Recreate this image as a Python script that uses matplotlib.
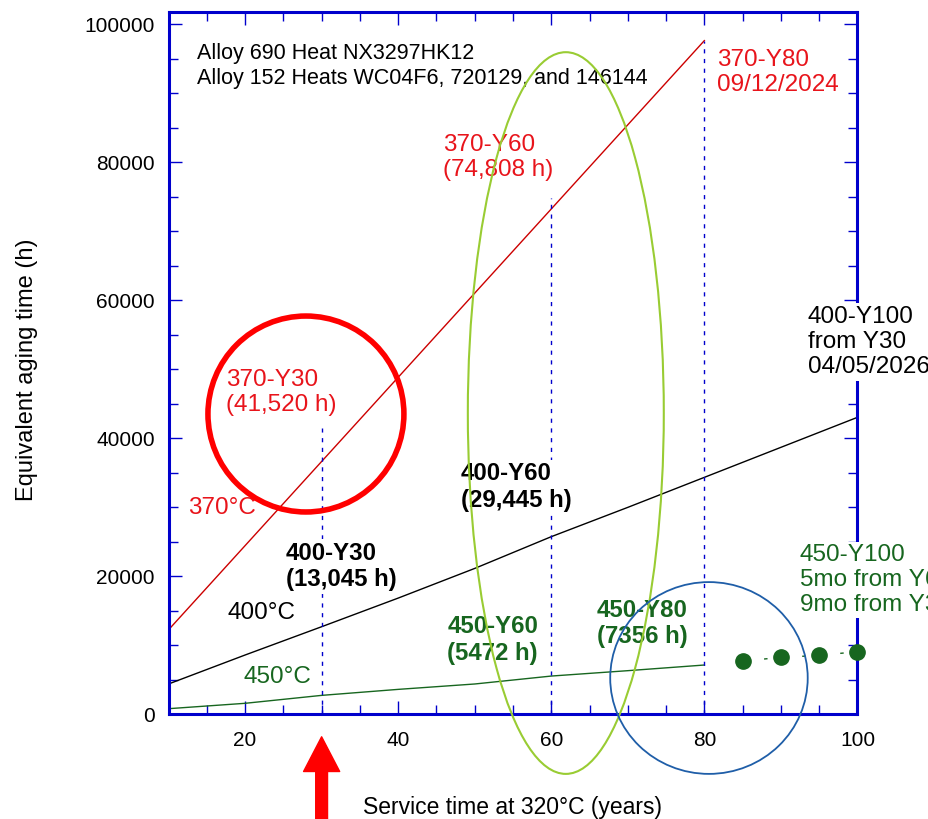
import matplotlib
matplotlib.use('Agg')
import matplotlib.pyplot as plt
from matplotlib.patches import Ellipse
from matplotlib.ticker import MultipleLocator

plt.rcParams['font.family'] = ['Liberation Sans', 'DejaVu Sans']

# service years and equivalent aging time (h)
years = [10, 20, 30, 40, 50, 60, 70, 80, 90, 100]
t370 = [12200, 24400, 36600, 48800, 61000, 73200, 85400, 97600]
t400 = [4350, 8550, 12650, 16800, 21100, 25700, 29950, 34300, 38650, 43000]
t450 = [770, 1550, 2700, 3570, 4350, 5500, 6280, 7100]
y450_ext = [85, 90, 95, 100]
t450_ext = [7680, 8200, 8500, 9030]

# dashed markers at Y30 / Y60 / Y80
mark_years = [30, 60, 80]
mark_tops = [41520, 74808, 97600]

red = '#e8141b'
dred = '#cc0000'
dgreen = '#17661f'
blue = '#0000cc'

fig = plt.figure(figsize=(9.29, 8.19), dpi=100)
ax = fig.add_axes([0.1814, 0.1282, 0.7416, 0.8571])

ax.plot(years[:len(t370)], t370, color=dred, lw=1)
ax.plot(years, t400, color='black', lw=1)
ax.plot(years[:len(t450)], t450, color=dgreen, lw=1)
ax.plot(y450_ext, t450_ext, color=dgreen, lw=1, ls=(12, (2.5, 25)), zorder=2)
ax.plot(y450_ext, t450_ext, 'o', color=dgreen, ms=11, zorder=4, clip_on=False)

for xm, top in zip(mark_years, mark_tops):
    ax.plot([xm, xm], [0, top], color=blue, lw=1, ls=(0, (3, 4)))

ax.add_patch(Ellipse((27.95, 43480), 25.6, 28400, fill=False, ec='#ff0000', lw=4, clip_on=False, zorder=4))
ax.add_patch(Ellipse((61.9, 43620), 25.6, 104600, fill=False, ec='#99cc33', lw=1.5, clip_on=False, zorder=4))
ax.add_patch(Ellipse((80.6, 5220), 25.8, 27800, fill=False, ec='#1f5ea8', lw=1.3, clip_on=False, zorder=4))

ax.annotate('', xy=(30, -3300), xytext=(30, -17500), xycoords='data',
            arrowprops=dict(facecolor='#ff0000', edgecolor='#ff0000', width=8.5, headwidth=26, headlength=25, shrink=0),
            annotation_clip=False)

ax.set_xlim(10, 100)
ax.set_ylim(0, 101740)
ax.xaxis.set_major_locator(MultipleLocator(20))
ax.xaxis.set_minor_locator(MultipleLocator(5))
ax.yaxis.set_major_locator(MultipleLocator(20000))
ax.yaxis.set_minor_locator(MultipleLocator(5000))
ax.tick_params(which='both', direction='in', top=True, right=True, color=blue, labelsize=15, labelcolor='black')
ax.tick_params(which='major', length=9.5, width=1)
ax.tick_params(which='minor', length=6.5, width=1)
ax.tick_params(axis='x', pad=12)
ax.tick_params(axis='y', pad=10)
for s in ax.spines.values():
    s.set_color(blue)
    s.set_linewidth(2.2)

ax.set_xlabel('Service time at 320°C (years)', fontsize=16.5)
ax.set_ylabel('Equivalent aging time (h)', fontsize=17)
ax.xaxis.set_label_coords(0.5, -0.117)
ax.yaxis.set_label_coords(-0.19, 0.49)

box = dict(facecolor='white', edgecolor='none', boxstyle='square,pad=0.1')
ax.text(13.7, 93900, 'Alloy 690 Heat NX3297HK12\nAlloy 152 Heats WC04F6, 720129, and 146144',
        fontsize=15.5, va='center', linespacing=1.28)
ax.text(45.85, 80650, '370-Y60\n(74,808 h)', color=red, fontsize=17.5, va='center', linespacing=1.19)
ax.text(81.64, 92970, '370-Y80\n09/12/2024', color=red, fontsize=17.5, va='center', linespacing=1.19)
ax.text(17.51, 46590, '370-Y30\n(41,520 h)', color=red, fontsize=17.5, va='center', linespacing=1.19)
ax.text(12.54, 29850, '370°C', color=red, fontsize=17.5, va='center')
ax.text(25.35, 21380, '400-Y30\n(13,045 h)', fontsize=17.3, fontweight='bold', va='center', linespacing=1.19, bbox=box)
ax.text(17.64, 14640, '400°C', fontsize=17.5, va='center')
ax.text(19.73, 5360, '450°C', color=dgreen, fontsize=17.5, va='center')
ax.text(48.2, 32900, '400-Y60\n(29,445 h)', fontsize=17.3, fontweight='bold', va='center', linespacing=1.19, bbox=box)
ax.text(46.4, 10720, '450-Y60\n(5472 h)', color=dgreen, fontsize=17.3, fontweight='bold', va='center', linespacing=1.19)
ax.text(65.97, 13120, '450-Y80\n(7356 h)', color=dgreen, fontsize=17.3, fontweight='bold', va='center', linespacing=1.19)
ax.text(93.5, 53910, '400-Y100\nfrom Y30\n04/05/2026', fontsize=17.5, va='center', linespacing=1.19, bbox=box, zorder=5)
ax.text(92.48, 19420, '450-Y100\n5mo from Y60\n9mo from Y30', color=dgreen, fontsize=17.5, va='center', linespacing=1.15, bbox=box, zorder=5)

fig.savefig('out.png', dpi=100)
